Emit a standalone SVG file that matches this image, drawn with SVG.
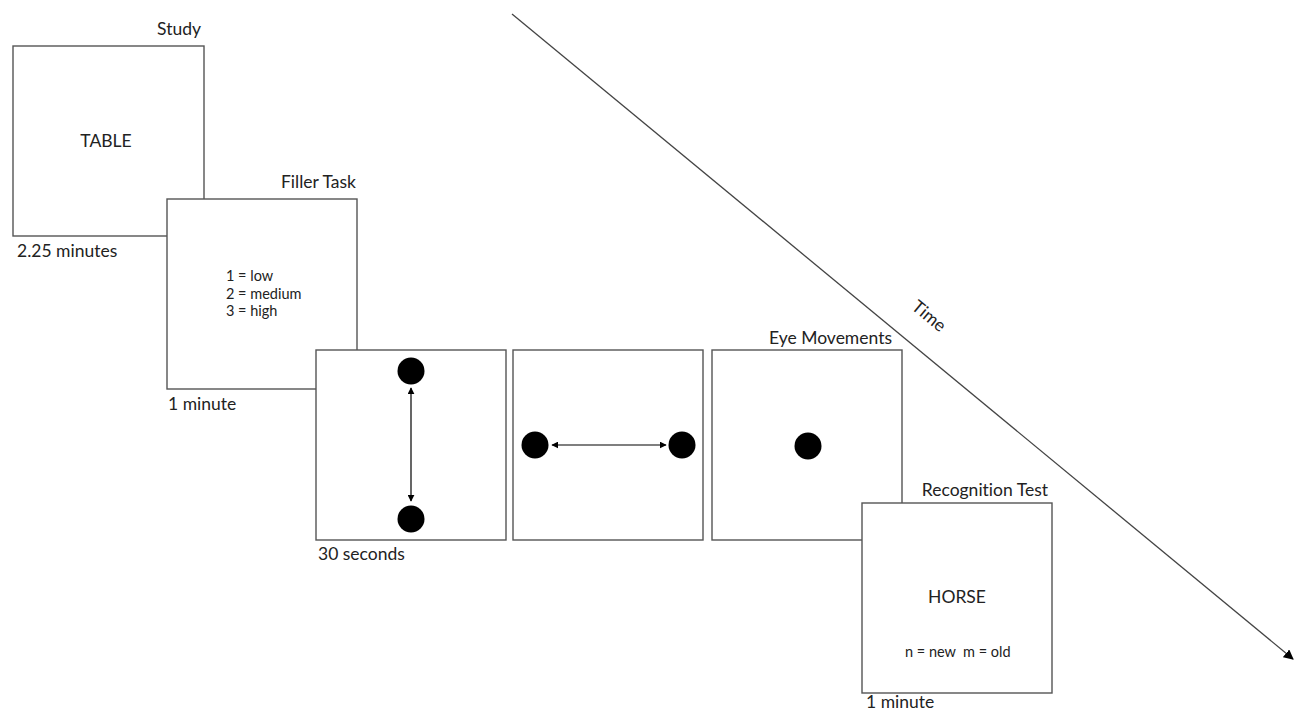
<svg xmlns="http://www.w3.org/2000/svg" width="1296" height="711" viewBox="0 0 1296 711">
<style>
.box{fill:#fff;stroke:#555;stroke-width:1.4}
.t{font-family:Lato,"Open Sans",sans-serif;font-size:17.5px;fill:#222;font-variant-ligatures:none}
.s{font-family:Lato,"Open Sans",sans-serif;font-size:14.5px;fill:#222;font-variant-ligatures:none}
.dot{fill:#000}
.arr{stroke:#000;stroke-width:1.2;fill:none;marker-start:url(#ah);marker-end:url(#ah)}
</style>
<defs>
<marker id="ah" viewBox="0 0 10 10" refX="9" refY="5" markerWidth="7" markerHeight="7" markerUnits="userSpaceOnUse" orient="auto-start-reverse">
<path d="M0,0 L10,5 L0,10 z" fill="#000"/>
</marker>
<marker id="th" viewBox="0 0 10 10" refX="9" refY="5" markerWidth="10" markerHeight="10" markerUnits="userSpaceOnUse" orient="auto">
<path d="M0,0 L10,5 L0,10 z" fill="#000"/>
</marker>
</defs>
<rect width="1296" height="711" fill="#fff"/>
<g id="study">
<rect class="box" x="13" y="46" width="191" height="190"/>
<text class="t" x="201" y="35" text-anchor="end">Study</text>
<text class="t" x="106" y="147" text-anchor="middle">TABLE</text>
<text class="t" x="17" y="257">2.25 minutes</text>
</g>
<g id="filler">
<rect class="box" x="167" y="199" width="190" height="190"/>
<text class="t" x="356" y="188" text-anchor="end">Filler Task</text>
<text class="s" x="226" y="281">1 = low</text>
<text class="s" x="226" y="298.5">2 = medium</text>
<text class="s" x="226" y="316">3 = high</text>
<text class="t" x="168" y="410">1 minute</text>
</g>
<g id="vertical">
<rect class="box" x="316" y="350" width="190" height="190"/>
<circle class="dot" cx="411" cy="371" r="13.5"/>
<circle class="dot" cx="411" cy="519" r="13.5"/>
<text class="t" x="318" y="560">30 seconds</text>
</g>
<g id="horizontal">
<rect class="box" x="513" y="350" width="190" height="190"/>
<circle class="dot" cx="535" cy="445" r="13.5"/>
<circle class="dot" cx="682" cy="445" r="13.5"/>
</g>
<g id="eye">
<rect class="box" x="712" y="350" width="190" height="190"/>
<circle class="dot" cx="808" cy="446" r="13.5"/>
<text class="t" x="892" y="344" text-anchor="end">Eye Movements</text>
</g>
<g id="recognition">
<rect class="box" x="862" y="503" width="190" height="190"/>
<text class="t" x="1048" y="496" text-anchor="end">Recognition Test</text>
<text class="t" x="957" y="603" text-anchor="middle">HORSE</text>
<text class="s" x="905" y="657">n = new</text>
<text class="s" x="963" y="657">m = old</text>
<text class="t" x="866" y="708">1 minute</text>
</g>
<g id="connectors">
<line class="arr" x1="411" y1="388" x2="411" y2="501"/>
<line class="arr" x1="552" y1="445" x2="666" y2="445"/>
<line x1="512" y1="14" x2="1293" y2="659" stroke="#444" stroke-width="1.3" marker-end="url(#th)"/>
<text class="t" x="929" y="322" text-anchor="middle" transform="rotate(39.5 929 316)">Time</text>
</g>
</svg>
